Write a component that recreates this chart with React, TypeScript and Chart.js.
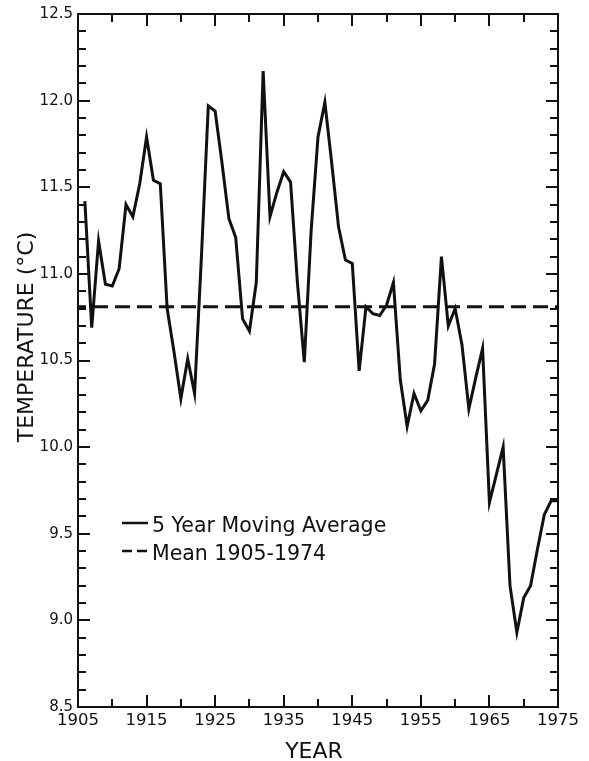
import React, { useEffect, useRef } from 'react';
import { Chart, registerables } from 'chart.js';

Chart.register(...registerables);

// ---- data ----
const years = [
  1906, 1907, 1908, 1909, 1910, 1911, 1912, 1913, 1914, 1915,
  1916, 1917, 1918, 1919, 1920, 1921, 1922, 1923, 1924, 1925,
  1926, 1927, 1928, 1929, 1930, 1931, 1932, 1933, 1934, 1935,
  1936, 1937, 1938, 1939, 1940, 1941, 1942, 1943, 1944, 1945,
  1946, 1947, 1948, 1949, 1950, 1951, 1952, 1953, 1954, 1955,
  1956, 1957, 1958, 1959, 1960, 1961, 1962, 1963, 1964, 1965,
  1966, 1967, 1968, 1969, 1970, 1971, 1972, 1973, 1974, 1975,
];
const movingAverage = [
  11.42, 10.69, 11.19, 10.94, 10.93, 11.03, 11.40, 11.33, 11.52, 11.79,
  11.54, 11.52, 10.80, 10.55, 10.28, 10.51, 10.31, 11.10, 11.97, 11.94,
  11.64, 11.32, 11.21, 10.74, 10.67, 10.95, 12.17, 11.33, 11.47, 11.59,
  11.53, 10.95, 10.49, 11.25, 11.79, 11.99, 11.64, 11.27, 11.08, 11.06,
  10.44, 10.81, 10.77, 10.76, 10.82, 10.95, 10.39, 10.12, 10.31, 10.21,
  10.27, 10.48, 11.10, 10.70, 10.80, 10.59, 10.22, 10.40, 10.57, 9.68,
  9.84, 10.00, 9.20, 8.93, 9.13, 9.20, 9.41, 9.61, 9.69, 9.69,
];
const meanYears = [1905, 1975];
const meanValues = [10.81, 10.81];
const seriesLabels = ['5 Year Moving Average', 'Mean 1905-1974'];
const xTickLabels = [1905, 1915, 1925, 1935, 1945, 1955, 1965, 1975];
const yTickLabels = [8.5, 9.0, 9.5, 10.0, 10.5, 11.0, 11.5, 12.0, 12.5];
const xTitle = 'YEAR';
const yTitle = 'TEMPERATURE (°C)';

const INK = '#111111';
const FONT = '"DejaVu Sans", sans-serif';

const framePlugin = {
  id: 'frameTicks',
  afterDatasetsDraw(chart: any) {
    const { ctx, chartArea: a, scales } = chart;
    const xs = scales.x;
    const ys = scales.y;
    ctx.save();
    ctx.strokeStyle = INK;
    ctx.lineWidth = 2;
    ctx.lineCap = 'butt';
    ctx.strokeRect(a.left, a.top, a.right - a.left, a.bottom - a.top);
    const seg = (x1: number, y1: number, x2: number, y2: number) => {
      ctx.beginPath();
      ctx.moveTo(x1, y1);
      ctx.lineTo(x2, y2);
      ctx.stroke();
    };
    const xmin = xs.min, xmax = xs.max;
    for (let v = xmin; v <= xmax; v += 5) {
      const px = Math.round(xs.getPixelForValue(v));
      const len = xTickLabels.includes(v) ? 12 : 8;
      seg(px, a.bottom, px, a.bottom - len);
      seg(px, a.top, px, a.top + len);
    }
    const lo = Math.round(ys.min * 10), hi = Math.round(ys.max * 10);
    for (let i = lo; i <= hi; i++) {
      const py = Math.round(ys.getPixelForValue(i / 10));
      const len = i % 5 === 0 ? 12 : 8;
      seg(a.left, py, a.left + len, py);
      seg(a.right, py, a.right - len, py);
    }
    ctx.restore();
  },
  afterDraw(chart: any) {
    const { ctx } = chart;
    ctx.save();
    ctx.fillStyle = INK;
    // axis titles
    ctx.font = `22px ${FONT}`;
    ctx.textAlign = 'center';
    ctx.textBaseline = 'alphabetic';
    ctx.fillText(xTitle, 314, 758);
    ctx.save();
    ctx.translate(33, 337);
    ctx.rotate(-Math.PI / 2);
    ctx.font = `22px ${FONT}`;
    ctx.fillText(yTitle, 0, 0);
    ctx.restore();
    // legend
    const ds = chart.data.datasets;
    ctx.font = `20.5px ${FONT}`;
    ctx.textAlign = 'left';
    const rows = [
      { y: 532, lineY: 523 },
      { y: 560, lineY: 551 },
    ];
    rows.forEach((r, i) => {
      const d = ds[i];
      ctx.strokeStyle = d.borderColor;
      ctx.lineWidth = 2.5;
      ctx.setLineDash(i === 1 ? [10, 5] : []);
      ctx.beginPath();
      ctx.moveTo(122, r.lineY);
      ctx.lineTo(148, r.lineY);
      ctx.stroke();
      ctx.setLineDash([]);
      ctx.fillText(d.label, 152, r.y);
    });
    ctx.restore();
  },
};

export default function App() {
  const ref = useRef<HTMLCanvasElement | null>(null);
  useEffect(() => {
    if (!ref.current) return;
    const chart = new Chart(ref.current, {
      type: 'line',
      data: {
        datasets: [
          {
            label: seriesLabels[0],
            data: years.map((yr, i) => ({ x: yr, y: movingAverage[i] })),
            borderColor: INK,
            borderWidth: 3,
            pointRadius: 0,
            tension: 0,
            borderJoinStyle: 'miter',
            fill: false,
          },
          {
            label: seriesLabels[1],
            data: meanYears.map((yr, i) => ({ x: yr, y: meanValues[i] })),
            borderColor: INK,
            borderWidth: 3,
            borderDash: [15, 7],
            borderDashOffset: 7,
            pointRadius: 0,
            tension: 0,
            fill: false,
          },
        ],
      },
      options: {
        animation: false,
        responsive: true,
        maintainAspectRatio: false,
        layout: { padding: 0 },
        plugins: {
          legend: { display: false },
          title: { display: false },
          tooltip: { enabled: false },
        },
        scales: {
          x: {
            type: 'linear',
            position: 'bottom',
            min: 1905,
            max: 1975,
            afterBuildTicks: (s: any) => {
              s.ticks = xTickLabels.map((v) => ({ value: v }));
            },
            afterFit: (s: any) => {
              s.height = 54;
            },
            grid: { display: false, drawTicks: false },
            border: { display: false },
            ticks: {
              padding: 4,
              color: INK,
              font: { family: FONT, size: 16.5 },
              maxRotation: 0,
              autoSkip: false,
              callback: (v: any) => String(v),
            },
          },
          x2: {
            type: 'linear',
            position: 'top',
            min: 1905,
            max: 1975,
            afterFit: (s: any) => {
              s.height = 14;
            },
            grid: { display: false, drawTicks: false },
            border: { display: false },
            ticks: { display: false },
          },
          y: {
            type: 'linear',
            position: 'left',
            min: 8.5,
            max: 12.5,
            afterBuildTicks: (s: any) => {
              s.ticks = yTickLabels.map((v) => ({ value: v }));
            },
            afterFit: (s: any) => {
              s.width = 78;
            },
            grid: { display: false, drawTicks: false },
            border: { display: false },
            ticks: {
              padding: 5,
              color: INK,
              font: { family: FONT, size: 15 },
              autoSkip: false,
              callback: (v: any) => Number(v).toFixed(1),
            },
          },
          y2: {
            type: 'linear',
            position: 'right',
            min: 8.5,
            max: 12.5,
            afterFit: (s: any) => {
              s.width = 31;
            },
            grid: { display: false, drawTicks: false },
            border: { display: false },
            ticks: { display: false },
          },
        },
      },
      plugins: [framePlugin],
    } as any);
    return () => chart.destroy();
  }, []);
  return (
    <div
      style={{
        position: 'fixed',
        left: 0,
        top: 0,
        width: 589,
        height: 761,
        background: '#ffffff',
      }}
    >
      <canvas ref={ref} />
    </div>
  );
}
